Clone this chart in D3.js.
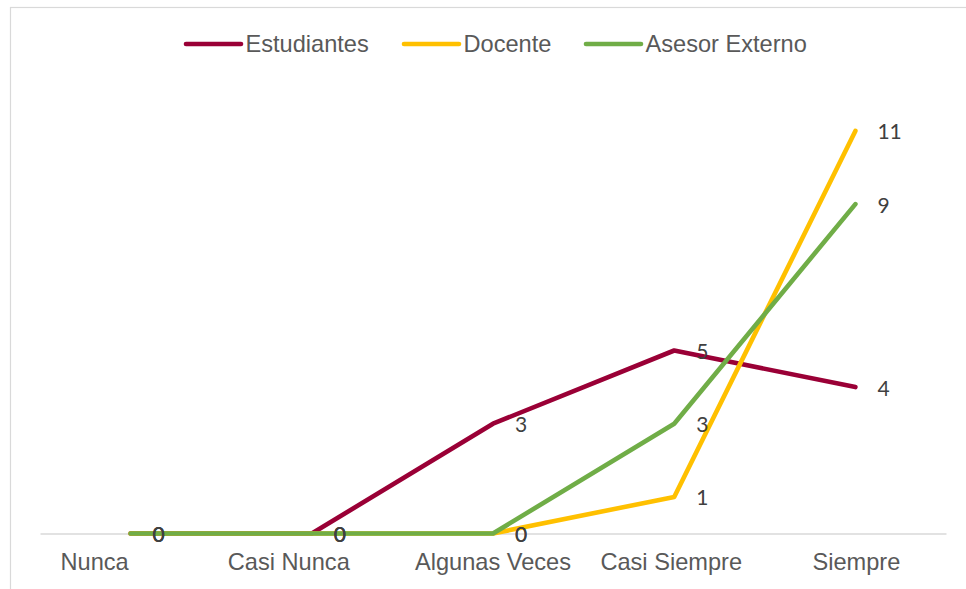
<!DOCTYPE html>
<html>
<head>
<meta charset="utf-8">
<script src="https://cdn.jsdelivr.net/npm/d3@7"></script>
<style>
  html, body { margin: 0; padding: 0; background: #ffffff; }
  svg { display: block; }
</style>
</head>
<body>
<svg id="chart" width="966" height="589"></svg>
<script>
// Response categories (x axis)
const categories = ["Nunca", "Casi Nunca", "Algunas Veces", "Casi Siempre", "Siempre"];

// Counts per group
const estudiantes = [0, 0, 3, 5, 4];
const docente = [0, 0, 0, 1, 11];
const asesorExterno = [0, 0, 0, 3, 9];

const seriesNames = ["Estudiantes", "Docente", "Asesor Externo"];
const seriesColors = ["#9a0036", "#ffc000", "#70ad47"];

const yMax = 12;

const series = [estudiantes, docente, asesorExterno].map((values, i) => ({
  name: seriesNames[i],
  color: seriesColors[i],
  values
}));

const svg = d3.select("#chart");
const W = 966, H = 589;

// Chart frame (extends past the visible area on the right and bottom)
svg.append("rect")
  .attr("x", 10.5).attr("y", 7.5)
  .attr("width", W + 20).attr("height", H + 20)
  .attr("fill", "#ffffff")
  .attr("stroke", "#d9d9d9")
  .attr("stroke-width", 1.2);

const plot = { left: 40, right: 946, top: 94.3, bottom: 533.5 };

const x = d3.scaleBand()
  .domain(categories)
  .range([plot.left, plot.right])
  .padding(0);

const y = d3.scaleLinear()
  .domain([0, yMax])
  .range([plot.bottom, plot.top]);

const cx = c => x(c) + x.bandwidth() / 2;

// Category axis
const axis = svg.append("g")
  .attr("transform", `translate(0,${plot.bottom})`)
  .call(d3.axisBottom(x).tickSize(0).tickPadding(0));

axis.select(".domain")
  .attr("stroke", "#d9d9d9")
  .attr("stroke-width", 1.5);

// Horizontal nudges for category labels, Excel-style placement
const labelNudge = [-36, -23, 0, -3, 1];
axis.selectAll(".tick text")
  .attr("fill", "#595959")
  .attr("font-family", "'Liberation Sans', Arial, sans-serif")
  .attr("font-size", 23.6)
  .attr("dy", 0)
  .attr("y", 36.5)
  .attr("dx", (d, i) => labelNudge[i]);

// Lines
const line = d3.line()
  .x((d, i) => cx(categories[i]))
  .y(d => y(d));

svg.append("g")
  .selectAll("path")
  .data(series)
  .join("path")
  .attr("d", s => line(s.values))
  .attr("fill", "none")
  .attr("stroke", s => s.color)
  .attr("stroke-width", 4.6)
  .attr("stroke-linejoin", "round")
  .attr("stroke-linecap", "round");

// Data labels, to the right of each point
const labels = svg.append("g");
series.forEach(s => {
  labels.selectAll(null)
    .data(s.values)
    .join("text")
    .attr("x", (d, i) => cx(categories[i]) + 22)
    .attr("y", d => y(d))
    .attr("dominant-baseline", "central")
    .attr("fill", "#404040")
    .attr("font-family", "Lato, 'Open Sans', sans-serif")
    .attr("font-size", 21)
    .text(d => d);
});

// Legend
const legendItems = [
  { x0: 186, x1: 241 },
  { x0: 404, x1: 459 },
  { x0: 586, x1: 641 }
];
const legendY = 44;
const legend = svg.append("g");
series.forEach((s, i) => {
  const item = legend.append("g");
  item.append("line")
    .attr("x1", legendItems[i].x0).attr("x2", legendItems[i].x1)
    .attr("y1", legendY).attr("y2", legendY)
    .attr("stroke", s.color)
    .attr("stroke-width", 4.6)
    .attr("stroke-linecap", "round");
  item.append("text")
    .attr("x", legendItems[i].x1 + 4.5)
    .attr("y", legendY)
    .attr("dominant-baseline", "central")
    .attr("fill", "#595959")
    .attr("font-family", "'Liberation Sans', Arial, sans-serif")
    .attr("font-size", 23.6)
    .text(s.name);
});
</script>
</body>
</html>
